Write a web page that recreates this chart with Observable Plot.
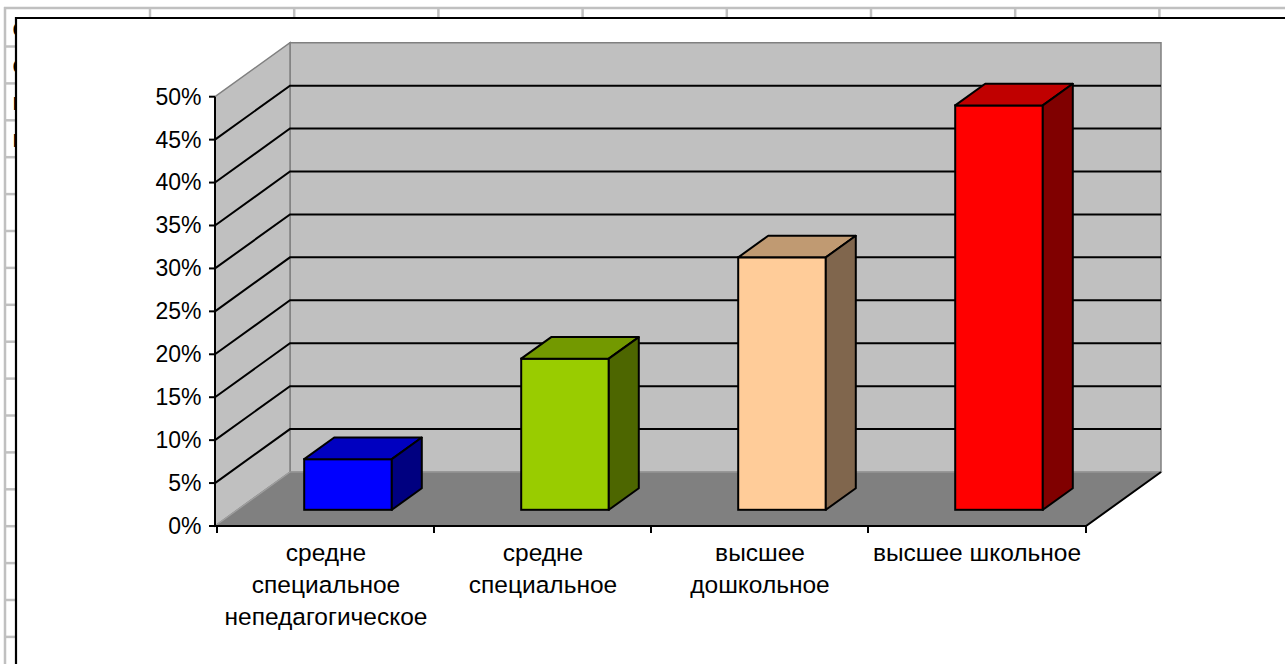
<!DOCTYPE html>
<html>
<head>
<meta charset="utf-8">
<script src="https://cdn.jsdelivr.net/npm/d3@7"></script>
<script src="https://cdn.jsdelivr.net/npm/@observablehq/plot@0.6"></script>
<style>
  body { margin: 0; background: #fff; }
  #wrap { position: relative; width: 1285px; height: 664px; overflow: hidden; background: #fff; }
  #bg, #chart { position: absolute; left: 0; top: 0; }
</style>
</head>
<body>
<div id="wrap">
  <svg id="bg" width="1285" height="664"></svg>
  <div id="chart"></div>
</div>
<script>
// ---------- data ----------
const categories = [
  "средне специальное непедагогическое",
  "средне специальное",
  "высшее дошкольное",
  "высшее школьное"
];
const categoryLabels = [
  "средне\nспециальное\nнепедагогическое",
  "средне\nспециальное",
  "высшее\nдошкольное",
  "высшее школьное"
];
const shares = [0.059, 0.176, 0.294, 0.471];
const yTicks = [0, 0.05, 0.10, 0.15, 0.20, 0.25, 0.30, 0.35, 0.40, 0.45, 0.50];
const frontColors = ["#0000ff", "#99cc00", "#ffcc99", "#ff0000"];
const topColors = ["#0000c0", "#739900", "#c09a72", "#c00000"];
const sideColors = ["#000080", "#4d6600", "#80664d", "#800000"];
const backgroundCellText = ["с", "с", "п", "п"];

const data = categories.map((c, i) => ({
  category: c, label: categoryLabels[i], value: shares[i],
  front: frontColors[i], top: topColors[i], side: sideColors[i]
}));

// ---------- layout ----------
const W = 1285, H = 664;
const ML = 215, MR = 199, MT = 96.7, MB = 138;
const DEPTH = {dx: 75, dy: -54};
const BAR_FRONT = 0.3, BAR_DEPTH = 0.4;
const INSET = 64.7;
const FONT = "'Liberation Sans', Arial, sans-serif";
const LABEL_SIZE = 24.5;

// ---------- spreadsheet background ----------
(function drawBackground() {
  const bg = d3.select("#bg");
  const grey = "#c0c0c0";
  bg.append("rect").attr("width", W).attr("height", H).attr("fill", "#fff");
  bg.append("line").attr("x1", 4).attr("x2", W).attr("y1", 8).attr("y2", 8).attr("stroke", grey).attr("stroke-width", 2.5);
  bg.append("line").attr("x1", 5).attr("x2", 5).attr("y1", 7).attr("y2", H).attr("stroke", grey).attr("stroke-width", 2.5);
  for (let k = 0; k < 8; k++) {
    const cx = 150 + k * 144.2;
    bg.append("line").attr("x1", cx).attr("x2", cx).attr("y1", 8).attr("y2", 18).attr("stroke", grey).attr("stroke-width", 2.5);
  }
  for (let k = 0; k < 17; k++) {
    const ry = 46.5 + k * 36.9;
    bg.append("line").attr("x1", 5).attr("x2", 17).attr("y1", ry).attr("y2", ry).attr("stroke", grey).attr("stroke-width", 2.5);
  }
  backgroundCellText.forEach((t, k) => {
    bg.append("text").attr("x", 12.5).attr("y", 36 + k * 37).attr("font-family", FONT)
      .attr("font-size", 23).attr("fill", "#000").text(t);
  });
  // chart area
  bg.append("rect").attr("x", 16).attr("y", 18).attr("width", W).attr("height", H).attr("fill", "#fff");
  bg.append("path").attr("d", `M16,${H}V18H${W}`).attr("fill", "none").attr("stroke", "#000").attr("stroke-width", 2.2);
})();

// ---------- 3D box (walls, floor, grid) ----------
function wallsMark(index, scales) {
  const x = scales.x, y = scales.y;
  const [x0, x1] = x.range();
  const yb = y(0), yt = y(d3.max(yTicks));
  const {dx, dy} = DEPTH;
  const g = d3.create("svg:g");
  const pts = a => a.map(p => p.join(",")).join(" ");
  // back wall
  g.append("polygon").attr("points", pts([[x0 + dx, yt + dy], [x1 + dx, yt + dy], [x1 + dx, yb + dy], [x0 + dx, yb + dy]]))
    .attr("fill", "#c0c0c0").attr("stroke", "#808080").attr("stroke-width", 1.5);
  // side wall
  g.append("polygon").attr("points", pts([[x0, yb], [x0, yt], [x0 + dx, yt + dy], [x0 + dx, yb + dy]]))
    .attr("fill", "#c0c0c0").attr("stroke", "#808080").attr("stroke-width", 1.5);
  // floor
  g.append("polygon").attr("points", pts([[x0, yb], [x1, yb], [x1 + dx, yb + dy], [x0 + dx, yb + dy]]))
    .attr("fill", "#808080").attr("stroke", "#a0a0a0").attr("stroke-width", 1.2);
  // gridlines
  for (const t of yTicks) {
    if (t === 0 || t === d3.max(yTicks)) continue;
    const yy = y(t);
    g.append("polyline").attr("points", pts([[x0, yy], [x0 + dx, yy + dy], [x1 + dx, yy + dy]]))
      .attr("fill", "none").attr("stroke", "#000").attr("stroke-width", 2);
  }
  // y ticks
  for (const t of yTicks) {
    g.append("line").attr("x1", x0 - 6).attr("x2", x0).attr("y1", y(t)).attr("y2", y(t))
      .attr("stroke", "#000").attr("stroke-width", 2);
  }
  // axis lines
  g.append("path").attr("d", `M${x0},${yt}V${yb}H${x1}L${x1 + dx},${yb + dy}`)
    .attr("fill", "none").attr("stroke", "#000").attr("stroke-width", 2).attr("stroke-linejoin", "miter");
  // x ticks at band boundaries
  const bounds = x.domain().map(c => x(c)).concat([x1]);
  for (const b of bounds) {
    g.append("line").attr("x1", b).attr("x2", b).attr("y1", yb).attr("y2", yb + 7)
      .attr("stroke", "#000").attr("stroke-width", 2);
  }
  return g.node();
}

// ---------- bar top & side faces ----------
function barFaces(index, scales) {
  const x = scales.x, y = scales.y;
  const bw = x.bandwidth();
  const fdx = DEPTH.dx * BAR_FRONT, fdy = DEPTH.dy * BAR_FRONT;
  const bdx = DEPTH.dx * BAR_DEPTH, bdy = DEPTH.dy * BAR_DEPTH;
  const g = d3.create("svg:g").attr("stroke", "#000").attr("stroke-width", 2).attr("stroke-linejoin", "round");
  const pts = a => a.map(p => p.join(",")).join(" ");
  for (const d of data) {
    const l = x(d.category) + INSET + fdx, r = x(d.category) + bw - INSET + fdx;
    const t = y(d.value) + fdy, b = y(0) + fdy;
    g.append("polygon").attr("points", pts([[l, t], [r, t], [r + bdx, t + bdy], [l + bdx, t + bdy]])).attr("fill", d.top);
    g.append("polygon").attr("points", pts([[r, t], [r + bdx, t + bdy], [r + bdx, b + bdy], [r, b]])).attr("fill", d.side);
  }
  return g.node();
}

const chart = Plot.plot({
  width: W,
  height: H,
  marginLeft: ML,
  marginRight: MR,
  marginTop: MT,
  marginBottom: MB,
  style: {background: "transparent", fontFamily: FONT, fontSize: "23px", color: "#000", overflow: "visible"},
  x: {type: "band", domain: categories, padding: 0, axis: null},
  y: {domain: [0, 0.5], ticks: yTicks, tickFormat: d3.format(".0%"), tickSize: 0, tickPadding: 14, label: null},
  color: {type: "identity"},
  marks: [
    wallsMark,
    Plot.barY(data, {
      x: "category", y: "value", fill: "front", stroke: "#000", strokeWidth: 2,
      insetLeft: INSET, insetRight: INSET,
      dx: DEPTH.dx * BAR_FRONT, dy: DEPTH.dy * BAR_FRONT
    }),
    barFaces,
    Plot.text(data, {
      x: "category", text: "label", frameAnchor: "bottom", lineAnchor: "top",
      dy: 12, fontSize: LABEL_SIZE, lineHeight: 32 / LABEL_SIZE, fill: "#000"
    })
  ]
});
document.getElementById("chart").appendChild(chart);
</script>
</body>
</html>
